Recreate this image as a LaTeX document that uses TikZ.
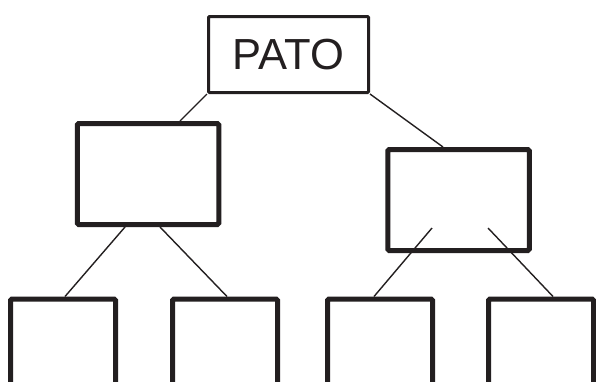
\documentclass[tikz,border=0pt]{standalone}
\usepackage{fontspec}
\setmainfont{Liberation Sans}
\definecolor{ink}{HTML}{231F20}
\begin{document}
\begin{tikzpicture}[x=1pt,y=-1pt,
  toplabel/.style={draw=ink,line width=3pt,rounded corners=1pt,inner sep=0pt,
    minimum width=160pt,minimum height=76pt,font=\fontsize{43.5}{43.5}\selectfont,text=ink},
  midbox/.style={draw=ink,line width=5pt,rounded corners=1.5pt,inner sep=0pt,
    minimum width=141.5pt,minimum height=101pt},
  leafbox/.style={draw=ink,line width=5pt,rounded corners=1.5pt,inner sep=0pt,
    minimum width=105pt,minimum height=120pt},
  link/.style={draw=ink,line width=1.4pt}]
\clip (0,0) rectangle (596,381);
\fill[white] (0,0) rectangle (596,381);
\node[toplabel] (pato) at (288.5,54.5) {PATO};
\node[midbox] (lm) at (148,174) {};
\node[midbox] (rm) at (458.5,200) {};
\node[leafbox,anchor=north] (b1) at (63,296.5) {};
\node[leafbox,anchor=north] (b2) at (225,296.5) {};
\node[leafbox,anchor=north] (b3) at (380,296.5) {};
\node[leafbox,anchor=north] (b4) at (541,296.5) {};
\draw[link] (pato.south west) -- ([xshift=32pt]lm.north);
\draw[link] (pato.south east) -- ([xshift=-15.5pt]rm.north);
\draw[link] ([xshift=-23pt]lm.south) -- ([xshift=2pt]b1.north);
\draw[link] ([xshift=12pt]lm.south) -- ([xshift=2pt]b2.north);
\draw[link] ([xshift=-26.5pt,yshift=-28pt]rm.center) -- ([xshift=-6pt]b3.north);
\draw[link] ([xshift=29.5pt,yshift=-28pt]rm.center) -- ([xshift=12pt]b4.north);
\end{tikzpicture}
\end{document}
